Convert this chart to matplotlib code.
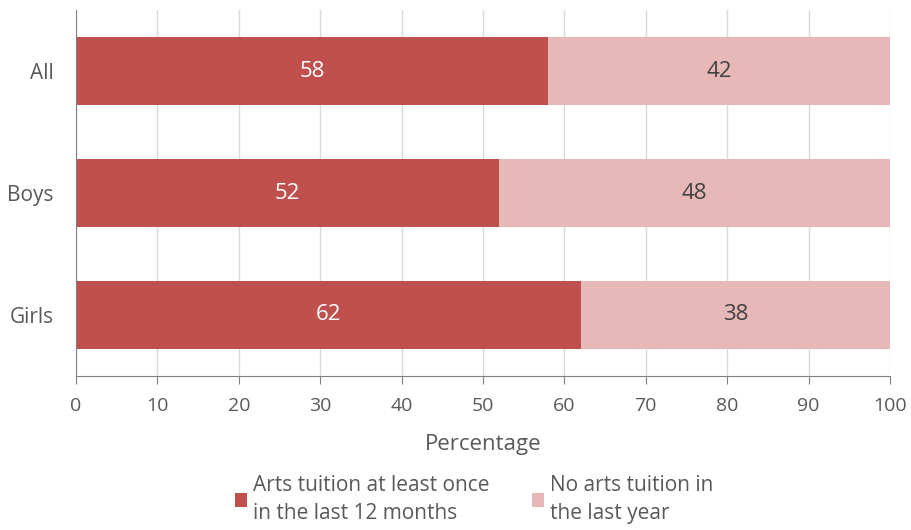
import numpy as np
import matplotlib.pyplot as plt

plt.rcParams['font.family'] = ['Open Sans', 'DejaVu Sans']

groups = ['All', 'Boys', 'Girls']
tuition = [58, 52, 62]
no_tuition = [42, 48, 38]
series_names = ['Arts tuition at least once\nin the last 12 months',
                'No arts tuition in\nthe last year']

dark_red = '#C0504D'
light_red = '#E6B9B8'
text_grey = '#595959'

fig = plt.figure(figsize=(9.12, 5.30), dpi=100)
ax = fig.add_axes([0.0833, 0.2906, 0.8926, 0.6904])

y = np.arange(len(groups))
b1 = ax.barh(y, tuition, height=0.56, color=dark_red, label=series_names[0])
b2 = ax.barh(y, no_tuition, left=tuition, height=0.56, color=light_red,
             label=series_names[1])

# value labels in the middle of each segment
for i in range(len(groups)):
    ax.text(tuition[i] / 2, y[i], str(tuition[i]), ha='center', va='center',
            color='white', fontsize=16)
    ax.text(tuition[i] + no_tuition[i] / 2, y[i], str(no_tuition[i]),
            ha='center', va='center', color='#404040', fontsize=16)

ax.set_xlim(0, 100)
ax.set_ylim(2.5, -0.5)
ax.set_xticks(np.arange(0, 101, 10))
ax.set_yticks(y)
ax.set_yticklabels(groups)
ax.grid(axis='x', color='#D9D9D9', linewidth=1)
ax.set_axisbelow(True)

for side in ['top', 'right']:
    ax.spines[side].set_visible(False)
ax.spines['left'].set_color('#808080')
ax.spines['bottom'].set_color('#808080')
ax.tick_params(axis='x', direction='out', length=6, color='#808080',
               labelcolor=text_grey, labelsize=14, pad=9)
ax.tick_params(axis='y', length=0, labelcolor=text_grey, labelsize=15, pad=16)
ax.set_xlabel('Percentage', fontsize=16, color=text_grey, labelpad=14)

leg = fig.legend(handles=[b1, b2], loc='lower center', bbox_to_anchor=(0.52, -0.024),
                 ncol=2, frameon=False, fontsize=15, labelcolor=text_grey,
                 handlelength=0.6, handleheight=0.6, handletextpad=0.3,
                 columnspacing=2.0)
for t in leg.get_texts():
    t.set_linespacing(1.45)

fig.savefig('out.png', dpi=100)
